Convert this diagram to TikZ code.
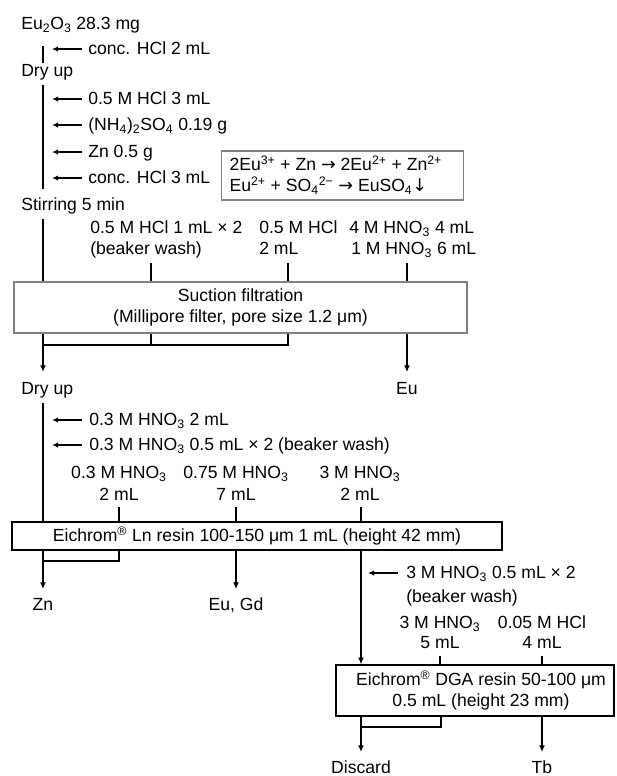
\documentclass[tikz,border=0pt]{standalone}
\usepackage{fontspec}
\setmainfont{Liberation Sans}
\newfontfamily\symf{DejaVu Sans}
\newcommand{\rarr}{{\symf →}}
\newcommand{\darr}{{\symf ↓}}
\usetikzlibrary{arrows.meta}
\begin{document}
\begin{tikzpicture}[x=0.75pt,y=-0.75pt,
  font=\fontsize{13.2}{16}\selectfont,
  lbl/.style={inner sep=0pt},
  conn/.style={line width=1.1pt, line join=miter},
  arr/.style={conn, -{Latex[length=5pt,width=4.5pt]}},
  larr/.style={line width=1.1pt, -{Latex[length=4.5pt,width=4pt]}},
  gbox/.style={draw=black!50, line width=0.8pt, align=center, inner sep=0pt},
  kbox/.style={draw=black, line width=1.1pt, align=center, inner sep=0pt},
  rbox/.style={draw=black!50, line width=0.8pt, align=left, inner xsep=6pt, inner ysep=0pt,
    minimum height=36.75pt, font=\fontsize{13.2}{15.75}\selectfont}]
\useasboundingbox (0,0) rectangle (617,776);
% helper x coordinates
\coordinate (x43) at (43,0);
\coordinate (x119) at (119,0);
\coordinate (x151) at (151,0);
\coordinate (x236) at (236,0);
\coordinate (x288) at (288,0);
\coordinate (x361) at (361,0);
\coordinate (x407) at (407,0);
\coordinate (x440) at (440,0);
\coordinate (x542) at (542,0);

% ---- top part
\node[lbl,anchor=base west] (eu) at (21,29.5) {Eu\textsubscript{2}O\textsubscript{3} 28.3 mg};
\coordinate (v1a) at (43,46);
\coordinate (v1b) at (43,63);
\draw[conn] (v1a) -- (v1b);
\node[lbl,anchor=base west] (r1) at (88,54.5) {conc. HCl 2 mL};
\draw[larr] ([shift={(-6,-5.5)}]r1.base west) -- ++(-30,0);

\node[lbl,anchor=base west] (dry1) at (21,76.5) {Dry up};
\coordinate (v2a) at (43,85);
\coordinate (v2b) at (43,189);
\draw[conn] (v2a) -- (v2b);
\node[lbl,anchor=base west] (r2) at (88,104.5) {0.5 M HCl 3 mL};
\node[lbl,anchor=base west] (r3) at (88,130.5) {(NH\textsubscript{4})\textsubscript{2}SO\textsubscript{4} 0.19 g};
\node[lbl,anchor=base west] (r4) at (88,157.5) {Zn 0.5 g};
\node[lbl,anchor=base west] (r5) at (88,183.5) {conc. HCl 3 mL};
\foreach \n in {r2,r3,r4,r5}
  \draw[larr] ([shift={(-6,-5.5)}]\n.base west) -- ++(-30,0);

\node[rbox,anchor=west] (rx) at (221,175.5)
  {2Eu\textsuperscript{3+} + Zn \rarr{} 2Eu\textsuperscript{2+} + Zn\textsuperscript{2+}\hspace*{10pt}\\
   Eu\textsuperscript{2+} + SO\textsubscript{4}\textsuperscript{2−} \rarr{} EuSO\textsubscript{4}\darr};

\node[lbl,anchor=base west] (stir) at (21,210.5) {Stirring 5 min};

% ---- suction filtration
\node[gbox, minimum width=339.75pt, minimum height=38.25pt] (suc) at (240.5,307.5)
  {Suction filtration\\(Millipore filter, pore size 1.2 μm)};
\coordinate (v3a) at (43,219);
\draw[conn] (v3a) -- (suc.north -| x43);

\node[lbl,anchor=base west] (u1a) at (90,233.5) {0.5 M HCl 1 mL × 2};
\node[lbl,anchor=base west] (u1b) at (90,254.5) {(beaker wash)};
\node[lbl,anchor=base west] (u2a) at (259,233.5) {0.5 M HCl};
\node[lbl,anchor=base west] (u2b) at (259,254.5) {2 mL};
\node[lbl,anchor=base west] (u3a) at (349,233.5) {4 M HNO\textsubscript{3} 4 mL};
\node[lbl,anchor=base west] (u3b) at (351,254.5) {1 M HNO\textsubscript{3} 6 mL};
\coordinate (t1) at (151,263);
\coordinate (t2) at (288,263);
\coordinate (t3) at (407,263);
\draw[conn] (t1) -- (suc.north -| t1);
\draw[conn] (t2) -- (suc.north -| t2);
\draw[conn] (t3) -- (suc.north -| t3);

\coordinate (j1) at (43,345);
\coordinate (j2) at (151,345);
\coordinate (j3) at (288,345);
\coordinate (e1) at (43,372);
\coordinate (e2) at (407,372);
\draw[arr] (suc.south -| x43) -- (e1);
\draw[conn] (j1) -- (j3) -- (suc.south -| x288);
\draw[conn] (j2) -- (suc.south -| x151);
\draw[arr] (suc.south -| x407) -- (e2);

\node[lbl,anchor=base west] (dry2) at (21,394.5) {Dry up};
\node[lbl,anchor=base] (eu2) at (407,394.5) {Eu};

% ---- Ln resin
\node[kbox, minimum width=367.5pt, minimum height=21pt] (lnbox) at (257,536)
  {Eichrom\textsuperscript{®} Ln resin 100-150 μm 1 mL (height 42 mm)};
\coordinate (v4a) at (43,403);
\draw[conn] (v4a) -- (lnbox.north -| x43);
\node[lbl,anchor=base west] (m1) at (89,425.5) {0.3 M HNO\textsubscript{3} 2 mL};
\node[lbl,anchor=base west] (m2) at (89,450.5) {0.3 M HNO\textsubscript{3} 0.5 mL × 2 (beaker wash)};
\foreach \n in {m1,m2}
  \draw[larr] ([shift={(-7,-5.5)}]\n.base west) -- ++(-30,0);

\node[lbl,anchor=base] (c1a) at (119,478.5) {0.3 M HNO\textsubscript{3}};
\node[lbl,anchor=base] (c1b) at (119,500.5) {2 mL};
\node[lbl,anchor=base] (c2a) at (236,478.5) {0.75 M HNO\textsubscript{3}};
\node[lbl,anchor=base] (c2b) at (236,500.5) {7 mL};
\node[lbl,anchor=base] (c3a) at (360,478.5) {3 M HNO\textsubscript{3}};
\node[lbl,anchor=base] (c3b) at (360,500.5) {2 mL};
\coordinate (t4) at (119,507);
\coordinate (t5) at (236,507);
\coordinate (t6) at (361,507);
\draw[conn] (t4) -- (lnbox.north -| t4);
\draw[conn] (t5) -- (lnbox.north -| t5);
\draw[conn] (t6) -- (lnbox.north -| t6);

\coordinate (j4) at (43,561);
\coordinate (j5) at (119,561);
\coordinate (e3) at (43,589);
\coordinate (e4) at (236,589);
\draw[arr] (lnbox.south -| x43) -- (e3);
\draw[conn] (j4) -- (j5) -- (lnbox.south -| x119);
\draw[arr] (lnbox.south -| x236) -- (e4);
\node[lbl,anchor=base] (zn) at (43,610) {Zn};
\node[lbl,anchor=base] (eugd) at (236,610) {Eu, Gd};

% ---- DGA resin
\node[kbox, minimum width=208.5pt, minimum height=38.25pt] (dga) at (475,690.5) {};
\node[lbl, align=center] (dgat) at (481,690.5)
  {Eichrom\textsuperscript{®} DGA resin 50-100 μm\\0.5 mL (height 23 mm)};
\draw[arr] (lnbox.south -| x361) -- (dga.north -| x361);
\node[lbl,anchor=base west] (b1) at (406,578.5) {3 M HNO\textsubscript{3} 0.5 mL × 2};
\node[lbl,anchor=base west] (b2) at (406,602.5) {(beaker wash)};
\draw[larr] ([shift={(-8,-5.5)}]b1.base west) -- ++(-30,0);

\node[lbl,anchor=base] (d1a) at (440,628.5) {3 M HNO\textsubscript{3}};
\node[lbl,anchor=base] (d1b) at (440,648.5) {5 mL};
\node[lbl,anchor=base] (d2a) at (542,628.5) {0.05 M HCl};
\node[lbl,anchor=base] (d2b) at (542,648.5) {4 mL};
\coordinate (t7) at (440,656);
\coordinate (t8) at (542,656);
\draw[conn] (t7) -- (dga.north -| t7);
\draw[conn] (t8) -- (dga.north -| t8);

\coordinate (j6) at (361,727);
\coordinate (j7) at (441,727);
\coordinate (e5) at (361,752);
\coordinate (e6) at (542,752);
\draw[arr] (dga.south -| x361) -- (e5);
\draw[conn] (j6) -- (j7) -- (dga.south -| j7);
\draw[arr] (dga.south -| x542) -- (e6);
\node[lbl,anchor=base] (disc) at (361,773) {Discard};
\node[lbl,anchor=base] (tb) at (542,773) {Tb};
\end{tikzpicture}
\end{document}
